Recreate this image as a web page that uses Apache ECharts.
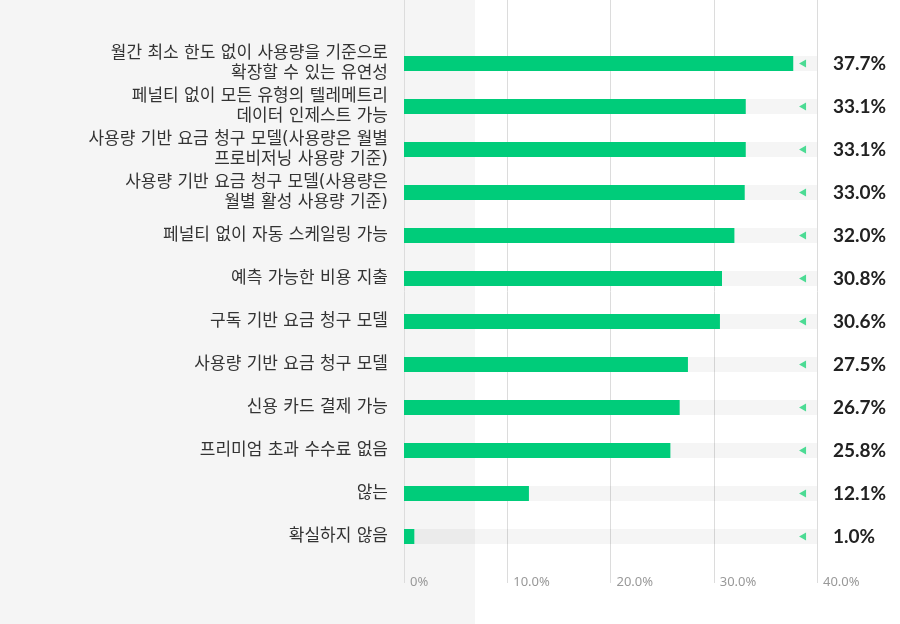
<!DOCTYPE html>
<html>
<head>
<meta charset="utf-8">
<script src="https://cdn.jsdelivr.net/npm/echarts@6/dist/echarts.min.js"></script>
<style>
  html, body { margin: 0; padding: 0; background: #fff; }
  #chart { width: 900px; height: 624px; }
</style>
</head>
<body>
<div id="chart"></div>
<script>
  // 항목 (위에서 아래 순서)
  var categories = [
    '월간 최소 한도 없이 사용량을 기준으로\n확장할 수 있는 유연성',
    '페널티 없이 모든 유형의 텔레메트리\n데이터 인제스트 가능',
    '사용량 기반 요금 청구 모델(사용량은 월별\n프로비저닝 사용량 기준)',
    '사용량 기반 요금 청구 모델(사용량은\n월별 활성 사용량 기준)',
    '페널티 없이 자동 스케일링 가능',
    '예측 가능한 비용 지출',
    '구독 기반 요금 청구 모델',
    '사용량 기반 요금 청구 모델',
    '신용 카드 결제 가능',
    '프리미엄 초과 수수료 없음',
    '않는',
    '확실하지 않음'
  ];
  var values = [37.7, 33.1, 33.1, 33.0, 32.0, 30.8, 30.6, 27.5, 26.7, 25.8, 12.1, 1.0];
  var axisMax = 40;
  var markerAt = 38.6;   // 작은 삼각형 표시 위치

  var myChart = echarts.init(document.getElementById('chart'));
  var font = '"DejaVu Sans", "Noto Sans CJK KR", sans-serif';

  var option = {
    animation: false,
    textStyle: { fontFamily: font },
    graphic: [{
      type: 'rect',
      z: -10,
      shape: { x: 0, y: 0, width: 475, height: 624 },
      style: { fill: '#f5f5f5' }
    }],
    grid: [
      // 세로 눈금선 + 아래 눈금 라벨
      { left: 404, right: 83, top: 0, bottom: 41 },
      // 막대
      { left: 404, right: 83, top: 42, bottom: 66 }
    ],
    xAxis: [
      {
        gridIndex: 0, type: 'value', min: 0, max: axisMax, interval: 10,
        axisLine: { show: false }, axisTick: { show: false },
        splitLine: { show: true, lineStyle: { color: '#dcdcdc', width: 1 } },
        axisLabel: {
          align: 'left', verticalAlign: 'middle', margin: -1,
          padding: [0, 0, 0, 6], color: '#999', fontSize: 13,
          fontFamily: '"Noto Sans", sans-serif',
          formatter: function (v) { return v === 0 ? '0%' : v.toFixed(1) + '%'; }
        }
      },
      { gridIndex: 1, type: 'value', min: 0, max: axisMax, show: false }
    ],
    yAxis: [
      { gridIndex: 0, type: 'value', show: false },
      {
        gridIndex: 1, type: 'category', data: categories, inverse: true,
        axisLine: { show: false }, axisTick: { show: false },
        axisLabel: { color: '#333', fontSize: 17, lineHeight: 20, margin: 16, align: 'right' }
      }
    ],
    series: [
      {
        name: 'track',
        type: 'bar',
        xAxisIndex: 1, yAxisIndex: 1,
        barWidth: 15,
        barGap: '-100%',
        silent: true,
        itemStyle: { color: 'rgba(0,0,0,0.04)' },
        label: {
          show: true, position: 'right', distance: 16,
          color: '#222', fontSize: 19, fontWeight: 'bold',
          fontFamily: 'Lato, "Noto Sans", sans-serif',
          formatter: function (p) { return values[p.dataIndex].toFixed(1) + '%'; }
        },
        data: categories.map(function () { return axisMax; })
      },
      {
        name: '응답',
        type: 'bar',
        xAxisIndex: 1, yAxisIndex: 1,
        barWidth: 15,
        barGap: '-100%',
        itemStyle: { color: '#00cc7a' },
        data: values
      },
      {
        name: 'marker',
        type: 'scatter',
        xAxisIndex: 1, yAxisIndex: 1,
        symbol: 'triangle',
        symbolRotate: 90,
        symbolSize: [8, 7],
        itemStyle: { color: '#22d47c' },
        data: categories.map(function () { return markerAt; })
      }
    ]
  };

  myChart.setOption(option);
</script>
</body>
</html>
